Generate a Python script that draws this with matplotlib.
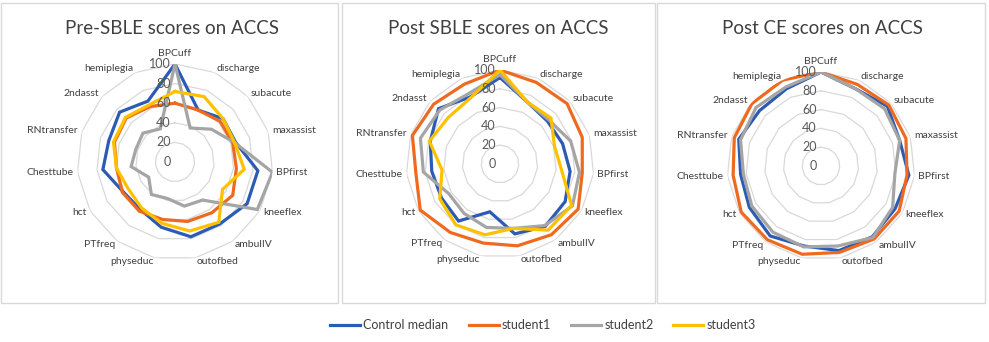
import numpy as np
import matplotlib
matplotlib.use('Agg')
import matplotlib.pyplot as plt
from matplotlib.patches import Rectangle

plt.rcParams['font.family'] = ['Lato', 'DejaVu Sans']

# categories go clockwise from the top
categories = ['BPCuff', 'discharge', 'subacute', 'maxassist', 'BPfirst', 'kneeflex',
              'ambulIV', 'outofbed', 'physeduc', 'PTfreq', 'hct', 'Chesttube',
              'RNtransfer', '2ndasst', 'hemiplegia']
series_names = ['Control median', 'student1', 'student2', 'student3']
series_colors = ['#2C5BB5', '#EE6A1F', '#A5A5A5', '#FFC000']
r_ticks = [0, 20, 40, 60, 80, 100]

# Pre-SBLE
pre_control = [100, 58, 66, 65, 85, 85, 78, 78, 68, 60, 61, 74, 71, 76, 68]
pre_s1 = [60, 58, 62, 62, 63, 68, 64, 62, 60, 62, 62, 60, 65, 67, 62]
pre_s2 = [100, 38, 50, 64, 100, 97, 48, 46, 38, 41, 31, 45, 42, 44, 37]
pre_s3 = [72, 73, 66, 64, 71, 56, 76, 72, 64, 58, 55, 60, 66, 68, 64]

# Post SBLE
sble_control = [92, 72, 68, 70, 75, 80, 82, 76, 52, 75, 72, 73, 78, 88, 78]
sble_s1 = [100, 95, 96, 92, 88, 96, 93, 89, 86, 90, 98, 90, 98, 95, 93]
sble_s2 = [95, 72, 70, 79, 85, 89, 81, 70, 69, 65, 63, 82, 89, 86, 82]
sble_s3 = [100, 72, 73, 61, 66, 88, 87, 70, 77, 80, 74, 62, 79, 74, 77]

# Post CE (no student3 line in this chart)
ce_control = [100, 90, 95, 88, 94, 91, 93, 92, 87, 92, 88, 86, 92, 88, 90]
ce_s1 = [100, 95, 97, 95, 92, 96, 96, 94, 96, 97, 98, 94, 97, 99, 100]
ce_s2 = [100, 90, 91, 88, 79, 88, 94, 87, 88, 87, 85, 83, 90, 93, 92]

W, H = 989, 342
fig = plt.figure(figsize=(W / 100, H / 100), dpi=100)

angles = np.linspace(0, 2 * np.pi, len(categories), endpoint=False)
closed = np.append(angles, angles[0])


def radar(cx, cy, R, data):
    """Excel-style spider chart centred at pixel (cx, cy) with radius R"""
    ax = fig.add_axes([(cx - R) / W, (H - cy - R) / H, 2 * R / W, 2 * R / H],
                      projection='polar')
    ax.set_theta_zero_location('N')
    ax.set_theta_direction(-1)
    ax.set_ylim(0, 100)
    ax.grid(False)
    ax.spines['polar'].set_visible(False)
    ax.set_xticks([])
    ax.set_yticks([])
    ax.patch.set_alpha(0)

    # polygon grid rings
    for r in r_ticks[1:]:
        ax.plot(closed, [r] * len(closed), color='#d9d9d9', lw=0.9, zorder=1)

    lines = []
    for vals, color, name in data:
        ln, = ax.plot(closed, vals + vals[:1], color=color, lw=2.3,
                      label=name, zorder=3, solid_joinstyle='miter')
        lines.append(ln)

    for r in r_ticks:
        ax.annotate(str(r), (0, r), xytext=(-3, 0), textcoords='offset points',
                    ha='right', va='center', fontsize=9, color='#595959', zorder=4)

    for a, lab in zip(angles, categories):
        s = np.sin(a)
        if abs(s) < 1e-6:
            ax.text(a, 111, lab, ha='center', va='center', fontsize=7.5, color='#404040')
        else:
            ax.text(a, 104, lab, ha='left' if s > 0 else 'right', va='center',
                    fontsize=7.5, color='#404040')
    return lines


pre_lines = radar(175, 162, 98, list(zip([pre_control, pre_s1, pre_s2, pre_s3],
                                         series_colors, series_names)))
radar(500, 164, 94, list(zip([sble_control, sble_s1, sble_s2, sble_s3],
                             series_colors, series_names)))
radar(821, 166, 94, list(zip([ce_control, ce_s1, ce_s2],
                             series_colors, series_names)))

titles = ['Pre-SBLE scores on ACCS', 'Post SBLE scores on ACCS', 'Post CE scores on ACCS']
title_x = [172, 498, 822]
for t, x in zip(titles, title_x):
    fig.text(x / W, 1 - 28 / H, t, ha='center', va='center', fontsize=13.5, color='#404040')

# chart area borders
for x0, x1 in [(1, 338), (342, 655), (657, 985)]:
    fig.add_artist(Rectangle((x0 / W, 1 - 303 / H), (x1 - x0) / W, 300 / H,
                             transform=fig.transFigure, fill=False,
                             edgecolor='#d9d9d9', lw=1))

fig.legend(pre_lines, series_names, loc='center', bbox_to_anchor=(543 / W, 1 - 325 / H),
           ncol=4, frameon=False, fontsize=9, handlelength=2.4, handletextpad=0.25,
           columnspacing=1.6, labelcolor='#404040')

fig.savefig('out.png', dpi=100)
